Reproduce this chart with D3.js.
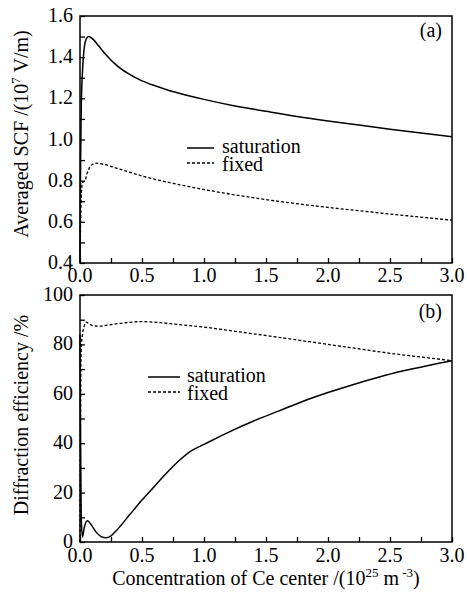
<!DOCTYPE html>
<html><head><meta charset="utf-8">
<script src="https://cdn.jsdelivr.net/npm/d3@7"></script>
<style>body{margin:0;background:#fff}svg{display:block}</style>
</head><body><svg id="c" width="467" height="595" font-family="Liberation Serif, Times New Roman, DejaVu Serif, serif"></svg>
<script>
// ---- data ----
const xTicksLabels = ["0.0","0.5","1.0","1.5","2.0","2.5","3.0"];
const aYTickLabels = ["0.4","0.6","0.8","1.0","1.2","1.4","1.6"];
const bYTickLabels = ["0","20","40","60","80","100"];

const aSatX = [0,0.005,0.01,0.02,0.03,0.045,0.07,0.1,0.15,0.2,0.3,0.4,0.5,0.6,0.7,0.8,1.0,1.25,1.5,1.75,2.0,2.25,2.5,2.75,3.0];
const aSatY = [0.4,0.9,1.15,1.33,1.42,1.48,1.50,1.49,1.455,1.418,1.358,1.316,1.285,1.262,1.242,1.225,1.195,1.163,1.137,1.112,1.09,1.07,1.05,1.031,1.013];
const aFixX = [0,0.005,0.01,0.02,0.04,0.06,0.09,0.13,0.2,0.3,0.4,0.5,0.75,1.0,1.25,1.5,1.75,2.0,2.25,2.5,2.75,3.0];
const aFixY = [0.4,0.6,0.72,0.79,0.80,0.84,0.875,0.885,0.878,0.86,0.841,0.823,0.787,0.757,0.731,0.708,0.688,0.67,0.654,0.638,0.623,0.608];

const bSatX = [0,0.005,0.01,0.02,0.035,0.06,0.09,0.13,0.17,0.21,0.25,0.3,0.4,0.5,0.6,0.7,0.8,0.9,1.0,1.2,1.4,1.6,1.8,2.0,2.2,2.4,2.6,2.8,3.0];
const bSatY = [84,40,10,2,6,8.6,7,4,2.2,1.7,2.5,5,11,17,22.5,28,33,37,39.5,44.5,49,53,57,60.5,63.7,66.6,69.2,71.4,73.4];
const bFixX = [0,0.003,0.007,0.012,0.02,0.035,0.05,0.07,0.1,0.15,0.25,0.35,0.5,0.65,0.8,1.0,1.25,1.5,1.75,2.0,2.25,2.5,2.75,3.0];
const bFixY = [0,40,70,80,84,87.5,89,88.5,87.6,87.4,88,88.7,89.2,88.8,88,87,85.3,83.6,81.8,80,78.2,76.4,74.9,73.4];

const legendNames = ["saturation","fixed"];

// ---- layout ----
const svg = d3.select("#c");
const L = 80, R = 452;
const x = d3.scaleLinear().domain([0,3]).range([L,R]);
const panels = [
  {top:16, bottom:263, xlOff:19, dom:[0.4,1.6], ticks:d3.range(0.4,1.6001,0.1), labels:aYTickLabels,
   series:[[aSatX,aSatY,null],[aFixX,aFixY,"3,2"]], tag:"(a)", tagY:37, leg:{x1:187,x2:214,y:148,tx:222}},
  {top:295, bottom:542, xlOff:20, dom:[0,100], ticks:d3.range(0,100.001,10), labels:bYTickLabels,
   series:[[bSatX,bSatY,null],[bFixX,bFixY,"3,2"]], tag:"(b)", tagY:318, leg:{x1:148,x2:180,y:377,tx:187}}
];
const FS = 20;

panels.forEach(p => {
  const y = d3.scaleLinear().domain(p.dom).range([p.bottom,p.top]);
  const g = svg.append("g");
  p.series.forEach(([xs,ys,dash]) => {
    const pts = xs.map((v,i)=>[v,ys[i]]);
    g.append("path").datum(pts)
      .attr("d", d3.line().x(d=>x(d[0])).y(d=>y(d[1])).curve(d3.curveMonotoneX))
      .attr("fill","none").attr("stroke","#000")
      .attr("stroke-width", dash?1.3:1.5)
      .attr("stroke-dasharray", dash);
  });
  g.append("rect").attr("x",L).attr("y",p.top).attr("width",R-L).attr("height",p.bottom-p.top)
    .attr("fill","none").attr("stroke","#000").attr("stroke-width",1.5);
  const xa = d3.axisBottom(x).tickValues(d3.range(0,3.001,0.25)).tickSize(-5).tickFormat(()=> "");
  const gx = g.append("g").attr("transform",`translate(0,${p.bottom})`).call(xa);
  gx.select(".domain").remove();
  gx.selectAll("line").attr("stroke-width",1.3);
  g.selectAll(".xl").data(xTicksLabels).enter().append("text")
    .attr("x",d=>x(+d)).attr("y",p.bottom+p.xlOff).attr("text-anchor","middle")
    .attr("font-size",FS).text(d=>d);
  const ya = d3.axisLeft(y).tickValues(p.ticks).tickSize(-5).tickFormat(()=> "");
  const gy = g.append("g").attr("transform",`translate(${L},0)`).call(ya);
  gy.select(".domain").remove();
  gy.selectAll("line").attr("stroke-width",1.3);
  g.selectAll(".yl").data(p.labels).enter().append("text")
    .attr("x",73).attr("y",d=>y(+d)).attr("dy","0.3em").attr("text-anchor","end")
    .attr("font-size",FS).text(d=>d);
  g.append("text").attr("x",442).attr("y",p.tagY).attr("text-anchor","end").attr("font-size",FS).text(p.tag);
  legendNames.forEach((n,i)=>{
    const ly = p.leg.y + i*15;
    g.append("line").attr("x1",p.leg.x1).attr("x2",p.leg.x2).attr("y1",ly).attr("y2",ly)
      .attr("stroke","#000").attr("stroke-width",i?1.3:1.5).attr("stroke-dasharray",i?"3,2":null);
    g.append("text").attr("x",p.leg.tx).attr("y",p.leg.y + 4.5 + i*18).attr("font-size",FS).text(n);
  });
});

const t1 = svg.append("text").attr("transform","translate(28,134) rotate(-90)").attr("text-anchor","middle").attr("font-size",FS);
t1.append("tspan").text("Averaged SCF /(10");
t1.append("tspan").attr("dy",-8).attr("font-size",13).text("7");
t1.append("tspan").attr("dy",8).text(" V/m)");
const t2 = svg.append("text").attr("transform","translate(28,415) rotate(-90)").attr("text-anchor","middle").attr("font-size",FS);
t2.text("Diffraction efficiency /%");
const t3 = svg.append("text").attr("x",266).attr("y",585).attr("text-anchor","middle").attr("font-size",FS);
t3.append("tspan").text("Concentration of Ce center /(10");
t3.append("tspan").attr("dy",-8).attr("font-size",13).text("25");
t3.append("tspan").attr("dy",8).text(" m");
t3.append("tspan").attr("dy",-8).attr("font-size",13).text(" -3");
t3.append("tspan").attr("dy",8).text(")");
</script></body></html>
